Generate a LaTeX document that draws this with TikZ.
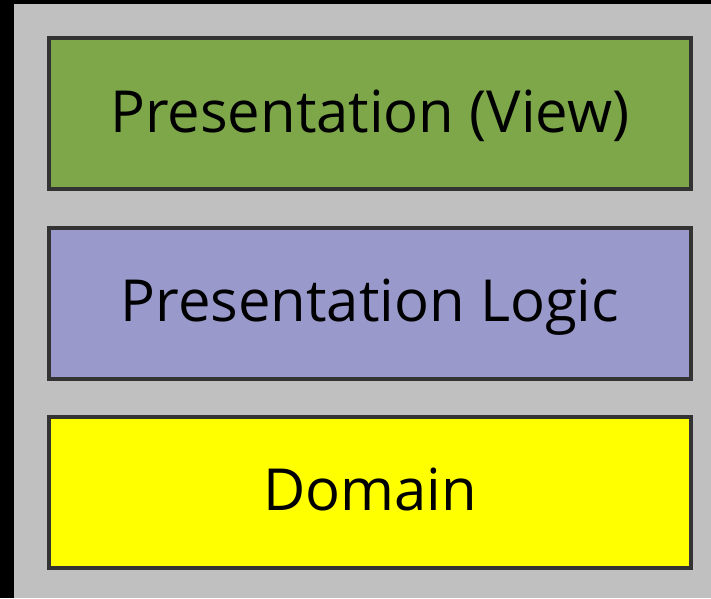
\documentclass[tikz,border=0pt]{standalone}
\usepackage{fontspec}
\setmainfont{Open Sans}
\definecolor{bggray}{HTML}{C0C0C0}
\definecolor{edge}{HTML}{333333}
\definecolor{viewgreen}{HTML}{7EA74A}
\definecolor{logicpurple}{HTML}{9999CC}
\definecolor{domyellow}{HTML}{FFFF00}
\tikzset{
  layer/.style={draw=edge, line width=4pt, minimum width=642pt, minimum height=151pt,
    inner sep=0pt, font=\fontsize{58}{70}\selectfont, text=black,
    text height=37pt, text depth=0pt},
}
\begin{document}
\begin{tikzpicture}[x=1pt,y=-1pt]
\useasboundingbox (0,0) rectangle (711,598);
\fill[black] (0,0) rectangle (711,598);
\fill[bggray] (14,4) rectangle (711,598);
\node[layer, fill=viewgreen] (view) at (370,113.5) {Presentation (View)};
\node[layer, fill=logicpurple] (logic) at (370,303) {Presentation Logic};
\node[layer, fill=domyellow] (domain) at (370,492) {Domain};
\end{tikzpicture}
\end{document}
